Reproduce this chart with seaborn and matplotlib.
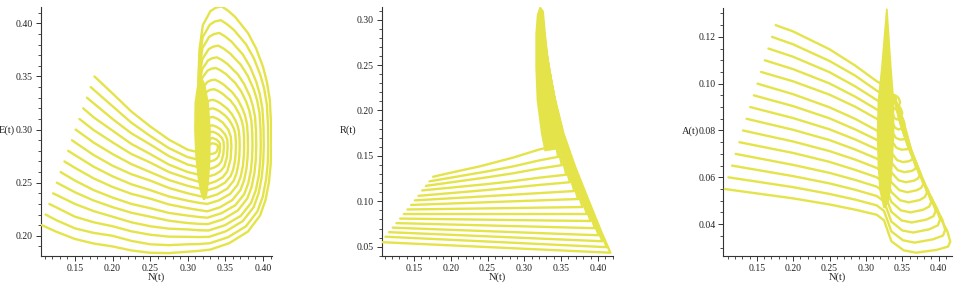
import pandas as pd
import matplotlib
matplotlib.use('Agg')
import matplotlib.pyplot as plt
import seaborn as sns
from matplotlib.ticker import MultipleLocator, FormatStrFormatter

# ---- panel 1: N(t) vs E(t), 15 trajectories ----
# approach from the initial point towards the cycle
p1_path_n = [
    [.176, .20, .225, .25, .275, .30, .315],
    [.171, .20, .225, .25, .275, .30, .315],
    [.166, .20, .225, .25, .275, .30, .315],
    [.161, .175, .20, .225, .25, .275, .30, .315],
    [.156, .175, .20, .225, .25, .275, .30, .315],
    [.151, .175, .20, .225, .25, .275, .30, .315],
    [.146, .15, .175, .20, .225, .25, .275, .30, .315],
    [.141, .15, .175, .20, .225, .25, .275, .30, .315],
    [.136, .15, .175, .20, .225, .25, .275, .30, .315],
    [.131, .15, .175, .20, .225, .25, .275, .30, .315],
    [.126, .15, .175, .20, .225, .25, .275, .30, .315],
    [.121, .15, .175, .20, .225, .25, .275, .30, .315],
    [.116, .15, .175, .20, .225, .25, .275, .30, .315],
    [.111, .125, .15, .175, .20, .225, .25, .275, .30, .315],
    [.106, .125, .15, .175, .20, .225, .25, .275, .30, .315],
]
p1_path_e = [
    [.350, .334, .317, .303, .2905, .281, .2785],
    [.340, .322, .3065, .294, .2825, .274, .2715],
    [.330, .310, .2965, .286, .275, .267, .2645],
    [.320, .3115, .299, .2865, .277, .267, .260, .2575],
    [.310, .2995, .288, .277, .269, .260, .254, .2508],
    [.300, .2877, .277, .2675, .260, .2525, .247, .2445],
    [.290, .288, .276, .266, .258, .252, .245, .240, .2375],
    [.280, .276, .265, .256, .2485, .243, .237, .233, .231],
    [.270, .264, .254, .246, .2395, .235, .2295, .226, .2242],
    [.260, .252, .243, .236, .230, .226, .2215, .219, .2177],
    [.250, .241, .2332, .227, .2217, .218, .2142, .212, .2112],
    [.240, .230, .2232, .218, .2127, .209, .2067, .206, .2052],
    [.230, .218, .2127, .209, .2042, .201, .1992, .199, .1988],
    [.220, .2148, .207, .2027, .200, .1952, .192, .1912, .192, .1922],
    [.210, .2039, .197, .1927, .190, .1862, .184, .1837, .185, .1858],
]
# first loop of every trajectory (the concentric rings)
p1_ring_n = [
    [.3316, .3342, .3368, .3384, .3397, .340, .3398, .3389, .3368, .3350, .3331, .3316, .3301],
    [.3303, .3343, .3382, .3407, .3425, .3430, .3427, .3413, .3382, .3355, .3327, .3303, .3281],
    [.3294, .3352, .3409, .3446, .3473, .3480, .3475, .3455, .3409, .3370, .3329, .3294, .3261],
    [.3285, .3361, .3436, .3485, .3521, .3530, .3524, .3497, .3436, .3385, .3331, .3285, .3241],
    [.3276, .3370, .3464, .3524, .3569, .3580, .3572, .3539, .3464, .3400, .3333, .3276, .3222],
    [.3269, .3383, .3498, .3571, .3605, .3626, .3636, .3640, .3638, .3631, .3614, .3589, .3548, .3498, .3420, .3376, .3338, .3301, .3269, .3223, .3202, .3196],
    [.3260, .3393, .3525, .3610, .3649, .3674, .3686, .3690, .3688, .3679, .3659, .3631, .3583, .3525, .3435, .3384, .3339, .3297, .3260, .3207, .3183, .3175],
    [.3260, .3412, .3563, .3660, .3704, .3732, .3745, .3750, .3748, .3738, .3715, .3683, .3628, .3563, .3460, .3402, .3351, .3303, .3260, .3200, .3173, .3164],
    [.3260, .3427, .3593, .3700, .3749, .3780, .3795, .3800, .3797, .3787, .3762, .3726, .3666, .3593, .3480, .3416, .3360, .3307, .3260, .3193, .3163, .3154],
    [.3261, .3446, .3631, .3749, .3803, .3838, .3854, .3860, .3857, .3845, .3817, .3778, .3711, .3631, .3505, .3434, .3372, .3313, .3261, .3187, .3154, .3143],
    [.3269, .3467, .3665, .3791, .3849, .3886, .3904, .3910, .3907, .3894, .3864, .3823, .3750, .3665, .3530, .3454, .3388, .3325, .3269, .3190, .3154, .3142],
    [.3278, .3492, .3705, .3842, .3904, .3945, .3963, .3970, .3967, .3953, .3921, .3876, .3798, .3705, .3560, .3478, .3406, .3339, .3278, .3193, .3154, .3142],
    [.3284, .3509, .3732, .3876, .3941, .3983, .4003, .4010, .4007, .3992, .3958, .3911, .3829, .3732, .3580, .3494, .3419, .3348, .3284, .3195, .3154, .3141],
    [.3294, .3534, .3773, .3926, .3996, .4041, .4063, .4070, .4066, .4051, .4015, .3964, .3877, .3773, .3610, .3518, .3438, .3362, .3294, .3198, .3155, .3141],
    [.3300, .3550, .3800, .3960, .4033, .4080, .4102, .4110, .4106, .4090, .4052, .4000, .3908, .3800, .3630, .3534, .3450, .3371, .3300, .3200, .3155, .3140],
]
p1_ring_e = [
    [.277, .2774, .2782, .2793, .2816, .284, .2850, .2857, .2864, .2868, .287, .2869, .2861],
    [.270, .2709, .2725, .2746, .2792, .284, .2867, .2885, .2905, .2914, .292, .2917, .2895],
    [.263, .2643, .2667, .2699, .2769, .284, .2887, .2920, .2953, .2969, .298, .2975, .2937],
    [.256, .2577, .2609, .2652, .2745, .284, .2907, .2954, .3002, .3025, .304, .3033, .2978],
    [.249, .2512, .2551, .2605, .2721, .284, .2933, .2999, .3067, .3099, .312, .3110, .3033],
    [.243, .2455, .2502, .2565, .2627, .2701, .2770, .284, .2901, .2960, .3006, .3044, .3092, .3132, .3173, .3189, .320, .3196, .3187, .3152, .3088, .3006],
    [.236, .2390, .2444, .2518, .2590, .2677, .2758, .284, .2915, .2987, .3042, .3090, .3148, .3196, .3247, .3267, .328, .3276, .3265, .3221, .3144, .3042],
    [.230, .2333, .2394, .2478, .2559, .2656, .2748, .284, .2932, .3020, .3088, .3147, .3218, .3277, .3339, .3364, .338, .3375, .3361, .3308, .3213, .3088],
    [.223, .2268, .2337, .2431, .2523, .2633, .2736, .284, .2947, .3050, .3130, .3198, .3281, .3350, .3422, .3451, .347, .3464, .3448, .3386, .3275, .3130],
    [.217, .2212, .2287, .2391, .2492, .2612, .2726, .284, .2966, .3086, .3180, .3260, .3358, .3439, .3524, .3558, .358, .3573, .3554, .3481, .3351, .3180],
    [.211, .2155, .2238, .2351, .2460, .2592, .2716, .284, .2983, .3120, .3226, .3317, .3428, .3520, .3616, .3655, .368, .3672, .3651, .3567, .3420, .3226],
    [.205, .2099, .2188, .2311, .2429, .2571, .2706, .284, .3002, .3156, .3277, .3380, .3505, .3610, .3718, .3762, .379, .3781, .3757, .3663, .3496, .3277],
    [.199, .2043, .2139, .2270, .2398, .2551, .2695, .284, .3022, .3196, .3332, .3448, .3589, .3707, .3829, .3878, .391, .3899, .3873, .3767, .3578, .3332],
    [.193, .1986, .2089, .2230, .2367, .2531, .2685, .284, .3042, .3236, .3387, .3516, .3673, .3804, .3940, .3994, .403, .4018, .3988, .3871, .3661, .3387],
    [.187, .1930, .2040, .2190, .2336, .2510, .2675, .284, .3064, .3280, .3447, .3590, .3764, .3909, .4060, .4120, .416, .4147, .4114, .3983, .3751, .3447],
]
p1_tail_n = [.3135, .3165]
p1_tail_e = [.290, .260]
# dense region where all trajectories settle
blob1_n = [.3168, .313, .310, .3095, .311, .314, .318, .3215, .3245, .327, .329, .3295, .327, .322]
blob1_e = [.350, .340, .325, .300, .275, .255, .240, .234, .237, .250, .270, .300, .325, .343]

# ---- panel 2: N(t) vs R(t) ----
p2_n = [
    [.176, .195, .24, .285, .32, .341, .335, .3295, .3257, .322],
    [.171, .25, .285, .32, .346, .3394, .3319, .326, .322],
    [.166, .25, .285, .32, .351, .3426, .3344, .327, .322],
    [.161, .25, .285, .32, .357, .3483, .3382, .328, .322],
    [.156, .25, .32, .362, .352, .3411, .329, .322],
    [.151, .25, .32, .368, .3576, .3448, .331, .322],
    [.146, .25, .32, .373, .3622, .3476, .332, .322],
    [.141, .25, .32, .379, .3676, .3521, .334, .322],
    [.136, .25, .32, .385, .373, .3563, .336, .322],
    [.131, .25, .32, .390, .3776, .3601, .3465, .337, .322],
    [.126, .25, .32, .396, .383, .3649, .349, .338, .322],
    [.121, .25, .32, .401, .3876, .3691, .3515, .339, .322],
    [.116, .25, .32, .406, .3918, .373, .3545, .340, .322],
    [.111, .25, .32, .412, .3968, .3772, .357, .341, .322],
    [.106, .25, .32, .417, .4054, .387, .369, .3531, .3418, .3328, .327, .322],
]
p2_r = [
    [.127, .1306, .1386, .1482, .157, .161, .186, .221, .261, .300],
    [.122, .133, .1385, .145, .149, .179, .219, .260, .300],
    [.117, .1265, .1309, .136, .1398, .170, .210, .260, .300],
    [.112, .119, .1222, .126, .1293, .159, .199, .250, .300],
    [.106, .1125, .118, .121, .151, .191, .250, .300],
    [.101, .1057, .109, .1113, .141, .181, .240, .300],
    [.096, .099, .101, .1025, .1325, .1725, .240, .300],
    [.091, .0922, .093, .0937, .1237, .1637, .235, .300],
    [.086, .086, .086, .086, .116, .156, .230, .300],
    [.081, .0797, .079, .0783, .1083, .1483, .1883, .230, .300],
    [.076, .0734, .072, .0704, .1004, .1404, .1804, .225, .300],
    [.071, .0671, .065, .0626, .0926, .1326, .1726, .220, .300],
    [.066, .0614, .059, .056, .086, .126, .166, .215, .300],
    [.061, .0557, .053, .0495, .0795, .1195, .1595, .212, .300],
    [.055, .0496, .047, .0434, .0647, .1013, .1379, .1745, .2111, .2476, .285, .305],
]
blob2_n = [.3214, .3255, .3282, .3328, .3418, .3531, .3592, .345, .3282, .3237, .3178, .316, .316, .318]
blob2_r = [.3135, .309, .2843, .2476, .2111, .1745, .160, .158, .156, .1745, .2111, .2476, .2843, .305]

# ---- panel 3: N(t) vs A(t) ----
p3_n = [
    [.176, .20, .25, .285, .315, .325, .335, .338, .341, .3446, .3455, .347, .3455, .343, .340, .338, .336, .331],
    [.171, .20, .25, .285, .315, .325, .335, .339, .343, .3472, .3485, .350, .3485, .3453, .3407, .3404, .336, .331],
    [.166, .20, .25, .285, .315, .325, .335, .340, .345, .3498, .3515, .353, .351, .3473, .3417, .3409, .336, .331],
    [.161, .20, .25, .285, .315, .325, .335, .341, .347, .353, .3555, .357, .355, .350, .343, .3415, .336, .331],
    [.156, .20, .25, .285, .315, .325, .335, .342, .349, .3562, .3595, .361, .359, .3527, .3443, .3422, .336, .331],
    [.151, .20, .25, .285, .315, .325, .335, .343, .351, .3594, .362, .365, .361, .3553, .3457, .3429, .336, .331],
    [.146, .20, .25, .285, .315, .325, .335, .344, .353, .3626, .366, .369, .365, .358, .347, .3435, .336, .331],
    [.141, .20, .25, .285, .315, .325, .335, .345, .355, .3664, .371, .374, .370, .3613, .3487, .3444, .336, .331],
    [.136, .20, .25, .285, .315, .325, .335, .346, .357, .3702, .376, .379, .375, .3647, .3503, .3452, .336, .331],
    [.131, .20, .25, .285, .315, .325, .335, .347, .359, .374, .381, .384, .380, .368, .352, .346, .336, .331],
    [.126, .20, .25, .285, .315, .325, .335, .348, .361, .3784, .387, .390, .386, .372, .354, .347, .336, .331],
    [.121, .20, .25, .285, .315, .325, .335, .349, .363, .3828, .393, .396, .392, .376, .356, .348, .336, .331],
    [.116, .20, .25, .285, .315, .325, .335, .350, .365, .3872, .399, .402, .398, .380, .358, .349, .336, .331],
    [.111, .20, .25, .285, .315, .325, .335, .351, .367, .3922, .406, .409, .405, .3847, .3603, .3502, .336, .331],
    [.106, .20, .25, .285, .315, .325, .335, .352, .369, .3972, .413, .416, .412, .3893, .3627, .3514, .336, .331],
]
p3_a = [
    [.125, .1223, .1147, .1078, .101, .0992, .0926, .0897, .089, .0898, .0907, .092, .0935, .0945, .095, .0952, .095, .105],
    [.120, .1168, .1097, .1035, .097, .0952, .0884, .0854, .0847, .0854, .0862, .0875, .089, .0905, .092, .0945, .095, .105],
    [.115, .1115, .1049, .0989, .093, .0911, .0842, .0812, .0804, .081, .0818, .083, .085, .0864, .0904, .0937, .095, .105],
    [.110, .1062, .1001, .0945, .089, .0871, .080, .0769, .0761, .0763, .0766, .077, .079, .0822, .0882, .0926, .095, .105],
    [.105, .101, .0953, .0902, .085, .083, .0758, .0726, .0718, .072, .0722, .0725, .0745, .0791, .0866, .0918, .095, .105],
    [.100, .0955, .0899, .085, .080, .078, .0705, .0673, .0665, .0669, .0673, .068, .0725, .0759, .0849, .091, .095, .105],
    [.095, .0904, .0852, .0805, .076, .0739, .0663, .063, .0622, .0627, .0632, .064, .0685, .0731, .0835, .0903, .095, .105],
    [.090, .0853, .0805, .0762, .072, .0699, .0621, .0587, .0579, .0586, .0594, .0605, .065, .0706, .0821, .0896, .095, .105],
    [.085, .0803, .0759, .0719, .068, .0658, .0579, .0545, .0536, .0545, .0555, .057, .0615, .0681, .0807, .0889, .095, .105],
    [.080, .0753, .0712, .0676, .064, .0618, .0537, .0502, .0493, .0503, .0516, .0535, .058, .0655, .0794, .0882, .095, .105],
    [.075, .0704, .0666, .0632, .060, .0577, .0495, .0459, .045, .0461, .0475, .0495, .054, .0627, .0778, .0874, .095, .105],
    [.070, .0653, .0619, .0589, .056, .0537, .0453, .0416, .0407, .0419, .0434, .0456, .050, .0598, .0762, .0866, .095, .105],
    [.065, .0605, .0574, .0547, .052, .0497, .0411, .0373, .0364, .0378, .0395, .042, .0465, .0572, .0748, .0859, .095, .105],
    [.060, .0558, .0529, .0505, .048, .0456, .0369, .0331, .0321, .0335, .0351, .0375, .042, .054, .0731, .0851, .095, .105],
    [.055, .051, .0484, .0462, .044, .0416, .0327, .0288, .0278, .029, .0304, .0325, .037, .0503, .0712, .0841, .095, .105],
]
blob3_n = [.3288, .3343, .3379, .338, .3356, .3333, .330, .325, .3196, .3173, .316, .3173, .322]
blob3_a = [.132, .1068, .0927, .0785, .0644, .0545, .049, .047, .0545, .0644, .0785, .0927, .1068]

YELLOW = '#E4E44A'

sns.set_style('ticks')
plt.rcParams['font.family'] = ['Liberation Serif', 'DejaVu Serif']


def curves_frame(xs, ys):
    rows = []
    for i, (xx, yy) in enumerate(zip(xs, ys)):
        for j, (a, b) in enumerate(zip(xx, yy)):
            rows.append((i, j, a, b))
    return pd.DataFrame(rows, columns=['curve', 'step', 'x', 'y'])


# panel 1 trajectories = approach + ring + tail into the dense region
p1_n = [a + r + p1_tail_n for a, r in zip(p1_path_n, p1_ring_n)]
p1_e = [a + r + p1_tail_e for a, r in zip(p1_path_e, p1_ring_e)]

fig = plt.figure(figsize=(9.62, 2.86), dpi=100)
positions = [[0.0423, 0.105, 0.2401, 0.872],
             [0.3968, 0.105, 0.2404, 0.869],
             [0.7519, 0.105, 0.2374, 0.866]]

panels = [
    (p1_n, p1_e, blob1_n, blob1_e, 'E(t)', (0.1045, 0.4115), (0.181, 0.4158), 0.05, 0.01),
    (p2_n, p2_r, blob2_n, blob2_r, 'R(t)', (0.106, 0.4205), (0.0398, 0.3135), 0.05, 0.01),
    (p3_n, p3_a, blob3_n, blob3_a, 'A(t)', (0.104, 0.418), (0.0264, 0.1322), 0.02, 0.005),
]

for pos, (xs, ys, bx, by, ylab, xlim, ylim, ymaj, ymin) in zip(positions, panels):
    ax = fig.add_axes(pos)
    df = curves_frame(xs, ys)
    ax.fill(bx, by, color=YELLOW, lw=1.2, ec=YELLOW, zorder=2)
    sns.lineplot(data=df, x='x', y='y', units='curve', estimator=None, sort=False,
                 color=YELLOW, lw=1.7, ax=ax, legend=False,
                 solid_joinstyle='round', solid_capstyle='round', zorder=3)
    ax.set_xlim(*xlim)
    ax.set_ylim(*ylim)
    ax.set_xlabel('')
    ax.set_ylabel('')
    ax.xaxis.set_major_locator(MultipleLocator(0.05))
    ax.xaxis.set_minor_locator(MultipleLocator(0.01))
    ax.yaxis.set_major_locator(MultipleLocator(ymaj))
    ax.yaxis.set_minor_locator(MultipleLocator(ymin))
    ax.xaxis.set_major_formatter(FormatStrFormatter('%.2f'))
    ax.yaxis.set_major_formatter(FormatStrFormatter('%.2f'))
    for s in ['top', 'right']:
        ax.spines[s].set_visible(False)
    for s in ['left', 'bottom']:
        ax.spines[s].set_linewidth(0.8)
        ax.spines[s].set_color('#333333')
    ax.tick_params(which='major', direction='out', length=3.5, width=0.7,
                   labelsize=7, colors='#333333', labelcolor='#222222', pad=2)
    ax.tick_params(which='minor', direction='out', length=2, width=0.6, colors='#333333')
    ax.text(-0.145, 0.505, ylab, transform=ax.transAxes, ha='center', va='center',
            fontsize=7.5, color='#222222')
    ax.text(0.5, -0.085, 'N(t)', transform=ax.transAxes, ha='center', va='center',
            fontsize=7.5, color='#222222')
    ax.patch.set_alpha(0)

fig.savefig('out.png', dpi=100, facecolor='white')
